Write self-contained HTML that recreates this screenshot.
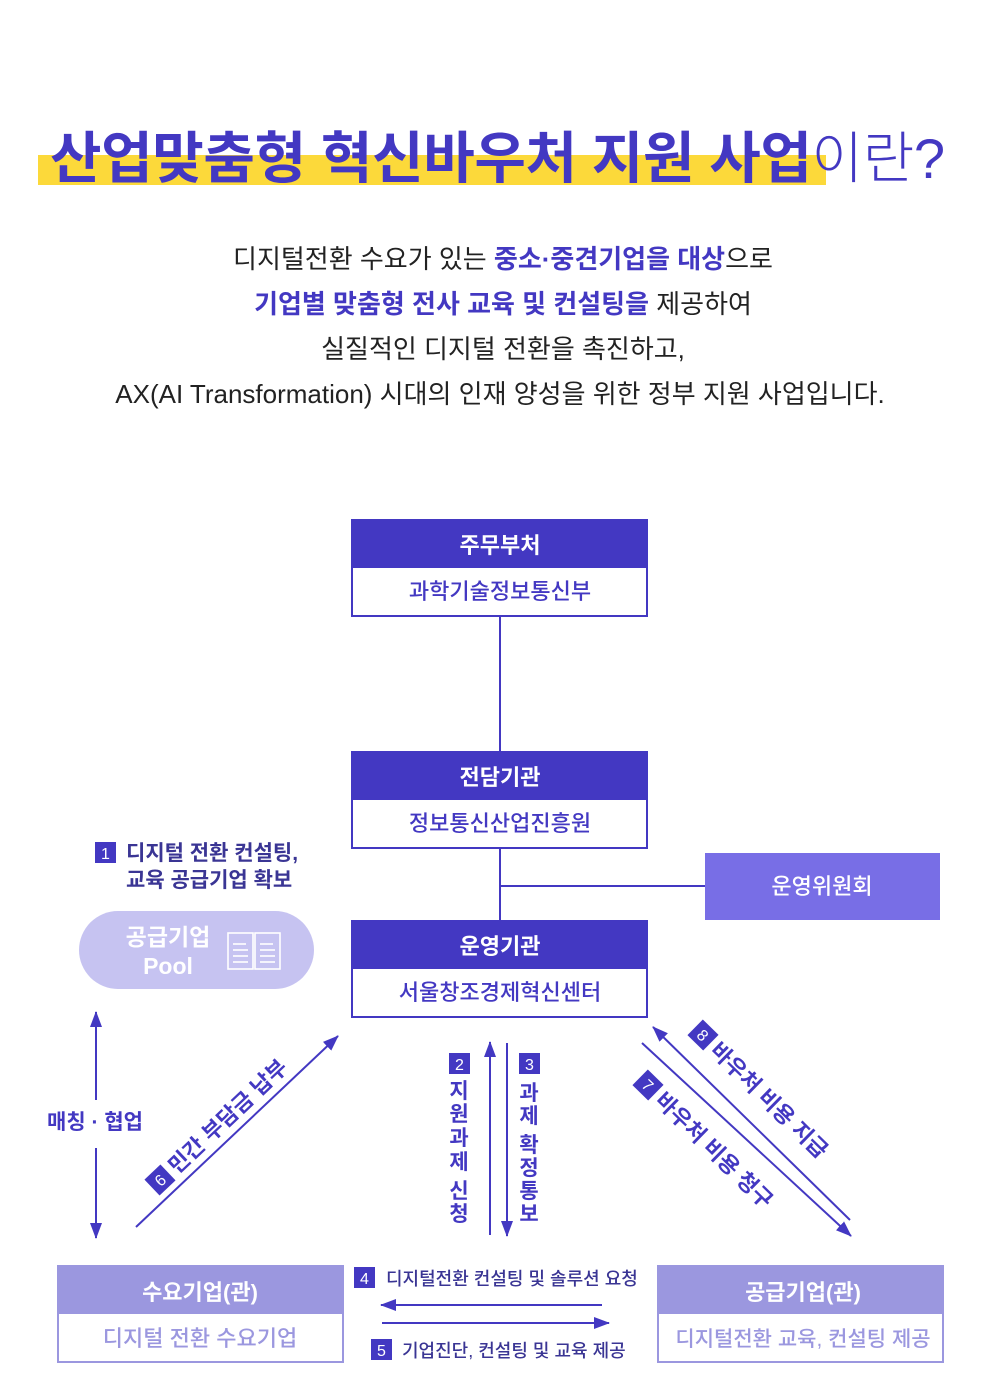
<!DOCTYPE html>
<html><head><meta charset="utf-8"><style>
html,body{margin:0;padding:0;background:#fff}
svg{display:block}
text{font-family:"Liberation Sans","Noto Sans CJK KR",sans-serif}
</style></head><body>
<svg width="1000" height="1396" viewBox="0 0 1000 1396" xmlns="http://www.w3.org/2000/svg">
<defs>
<marker id="ah" viewBox="0 0 16 12" refX="15" refY="6" markerWidth="8" markerHeight="6" orient="auto-start-reverse"><path d="M0,0 L16,6 L0,12 z" fill="#4338c2"/></marker>
</defs>
<!-- title -->
<rect x="38" y="155" width="788" height="30" fill="#fcd93a"/>
<text x="50" y="178" font-size="56" font-weight="700" fill="#4338c2" textLength="895" lengthAdjust="spacing">산업맞춤형 혁신바우처 지원 사업<tspan font-weight="300">이란?</tspan></text>
<!-- body -->
<g font-size="26" fill="#222" text-anchor="middle">
<text x="503" y="268">디지털전환 수요가 있는 <tspan fill="#4338c2" font-weight="700">중소·중견기업을 대상</tspan>으로</text>
<text x="503" y="313"><tspan fill="#4338c2" font-weight="700">기업별 맞춤형 전사 교육 및 컨설팅을</tspan> 제공하여</text>
<text x="503" y="358">실질적인 디지털 전환을 촉진하고,</text>
<text x="500" y="403">AX(AI Transformation) 시대의 인재 양성을 위한 정부 지원 사업입니다.</text>
</g>
<!-- connectors -->
<g stroke="#4338c2" stroke-width="2" fill="none">
<line x1="500" y1="617" x2="500" y2="751"/>
<line x1="500" y1="849" x2="500" y2="920"/>
<line x1="500" y1="886" x2="705" y2="886"/>
<line x1="96" y1="1100" x2="96" y2="1012" marker-end="url(#ah)"/>
<line x1="96" y1="1148" x2="96" y2="1238" marker-end="url(#ah)"/>
<line x1="136" y1="1227" x2="338" y2="1036" marker-end="url(#ah)"/>
<line x1="490" y1="1235" x2="490" y2="1042" marker-end="url(#ah)"/>
<line x1="507" y1="1043" x2="507" y2="1236" marker-end="url(#ah)"/>
<line x1="850" y1="1220" x2="653" y2="1027" marker-end="url(#ah)"/>
<line x1="642" y1="1043" x2="851" y2="1236" marker-end="url(#ah)"/>
<line x1="602" y1="1305" x2="381" y2="1305" marker-end="url(#ah)"/>
<line x1="382" y1="1323" x2="609" y2="1323" marker-end="url(#ah)"/>
</g>
<!-- top boxes -->
<g>
<rect x="352" y="520" width="295" height="48" fill="#4338c2"/>
<rect x="352" y="520" width="295" height="96" fill="none" stroke="#4338c2" stroke-width="2"/>
<text x="500" y="553" font-size="22" font-weight="700" fill="#fff" text-anchor="middle">주무부처</text>
<text x="500" y="599" font-size="22" font-weight="500" fill="#4338c2" text-anchor="middle">과학기술정보통신부</text>

<rect x="352" y="752" width="295" height="48" fill="#4338c2"/>
<rect x="352" y="752" width="295" height="96" fill="none" stroke="#4338c2" stroke-width="2"/>
<text x="500" y="785" font-size="22" font-weight="700" fill="#fff" text-anchor="middle">전담기관</text>
<text x="500" y="831" font-size="22" font-weight="500" fill="#4338c2" text-anchor="middle">정보통신산업진흥원</text>

<rect x="352" y="921" width="295" height="48" fill="#4338c2"/>
<rect x="352" y="921" width="295" height="96" fill="none" stroke="#4338c2" stroke-width="2"/>
<text x="500" y="954" font-size="22" font-weight="700" fill="#fff" text-anchor="middle">운영기관</text>
<text x="500" y="1000" font-size="22" font-weight="500" fill="#4338c2" text-anchor="middle">서울창조경제혁신센터</text>

<rect x="705" y="853" width="235" height="67" fill="#786ee6"/>
<text x="822" y="894" font-size="22" font-weight="500" fill="#fff" text-anchor="middle">운영위원회</text>
</g>
<!-- label 1 -->
<rect x="95" y="842" width="21" height="21" fill="#4338c2"/>
<text x="105.5" y="859" font-size="16" fill="#fff" text-anchor="middle">1</text>
<text x="126" y="860" font-size="21" font-weight="700" fill="#3a3594">디지털 전환 컨설팅,</text>
<text x="126" y="887" font-size="21" font-weight="700" fill="#3a3594">교육 공급기업 확보</text>
<!-- pool -->
<rect x="79" y="911" width="235" height="78" rx="39" fill="#c6c3f1"/>
<text x="168" y="945" font-size="23" font-weight="700" fill="#fff" text-anchor="middle">공급기업</text>
<text x="168" y="974" font-size="23" font-weight="700" fill="#fff" text-anchor="middle">Pool</text>
<g stroke="#fff" stroke-width="1.6" fill="none">
<rect x="228" y="933" width="25" height="36"/><rect x="255" y="933" width="25" height="36"/>
<line x1="233" y1="944" x2="246" y2="944"/><line x1="233" y1="950" x2="248" y2="950"/><line x1="233" y1="956" x2="248" y2="956"/><line x1="233" y1="962" x2="248" y2="962"/>
<line x1="260" y1="944" x2="273" y2="944"/><line x1="260" y1="950" x2="275" y2="950"/><line x1="260" y1="956" x2="275" y2="956"/><line x1="260" y1="962" x2="275" y2="962"/>
</g>
<!-- matching -->
<text x="95" y="1129" font-size="21" font-weight="700" fill="#4338c2" text-anchor="middle">매칭 · 협업</text>
<!-- label 6 -->
<g transform="translate(160,1180) rotate(-43.4)">
<rect x="-11" y="-11" width="22" height="22" fill="#4338c2"/>
<text x="0" y="6" font-size="16" fill="#fff" text-anchor="middle">6</text>
<text x="16" y="8" font-size="22" font-weight="700" fill="#4338c2">민간 부담금 납부</text>
</g>
<!-- label 8 -->
<g transform="translate(703,1035) rotate(44.4)">
<rect x="-11" y="-11" width="22" height="22" fill="#4338c2"/>
<text x="0" y="6" font-size="16" fill="#fff" text-anchor="middle">8</text>
<text x="16" y="8" font-size="22" font-weight="700" fill="#4338c2">바우처 비용 지급</text>
</g>
<!-- label 7 -->
<g transform="translate(648,1085) rotate(44.4)">
<rect x="-11" y="-11" width="22" height="22" fill="#4338c2"/>
<text x="0" y="6" font-size="16" fill="#fff" text-anchor="middle">7</text>
<text x="16" y="8" font-size="22" font-weight="700" fill="#4338c2">바우처 비용 청구</text>
</g>
<!-- label 2 & 3 -->
<rect x="449" y="1053" width="21" height="21" fill="#4338c2"/>
<text x="459.5" y="1070" font-size="16" fill="#fff" text-anchor="middle">2</text>
<g font-size="21" font-weight="700" fill="#4338c2" text-anchor="middle">
<text x="459" y="1098">지</text><text x="459" y="1121">원</text><text x="459" y="1145">과</text><text x="459" y="1169">제</text><text x="459" y="1198">신</text><text x="459" y="1221">청</text>
<text x="529" y="1100">과</text><text x="529" y="1123">제</text><text x="529" y="1152">확</text><text x="529" y="1175">정</text><text x="529" y="1198">통</text><text x="529" y="1221">보</text>
</g>
<rect x="519" y="1053" width="21" height="21" fill="#4338c2"/>
<text x="529.5" y="1070" font-size="16" fill="#fff" text-anchor="middle">3</text>
<!-- label 4 & 5 -->
<rect x="354" y="1267" width="21" height="21" fill="#4338c2"/>
<text x="364.5" y="1284" font-size="16" fill="#fff" text-anchor="middle">4</text>
<text x="386" y="1285" font-size="18" font-weight="500" fill="#3a3594">디지털전환 컨설팅 및 솔루션 요청</text>
<rect x="371" y="1339" width="21" height="21" fill="#4338c2"/>
<text x="381.5" y="1356" font-size="16" fill="#fff" text-anchor="middle">5</text>
<text x="402" y="1357" font-size="18" font-weight="500" fill="#3a3594">기업진단, 컨설팅 및 교육 제공</text>
<!-- bottom boxes -->
<rect x="58" y="1266" width="285" height="48" fill="#9b97df"/>
<rect x="58" y="1266" width="285" height="96" fill="none" stroke="#9b97df" stroke-width="2"/>
<text x="200" y="1300" font-size="22" font-weight="700" fill="#fff" text-anchor="middle">수요기업(관)</text>
<text x="200" y="1346" font-size="22" font-weight="500" fill="#9b97df" text-anchor="middle">디지털 전환 수요기업</text>
<rect x="658" y="1266" width="285" height="48" fill="#9b97df"/>
<rect x="658" y="1266" width="285" height="96" fill="none" stroke="#9b97df" stroke-width="2"/>
<text x="803" y="1300" font-size="22" font-weight="700" fill="#fff" text-anchor="middle">공급기업(관)</text>
<text x="803" y="1346" font-size="21" font-weight="500" fill="#9b97df" text-anchor="middle">디지털전환 교육, 컨설팅 제공</text>
</svg>
</body></html>
